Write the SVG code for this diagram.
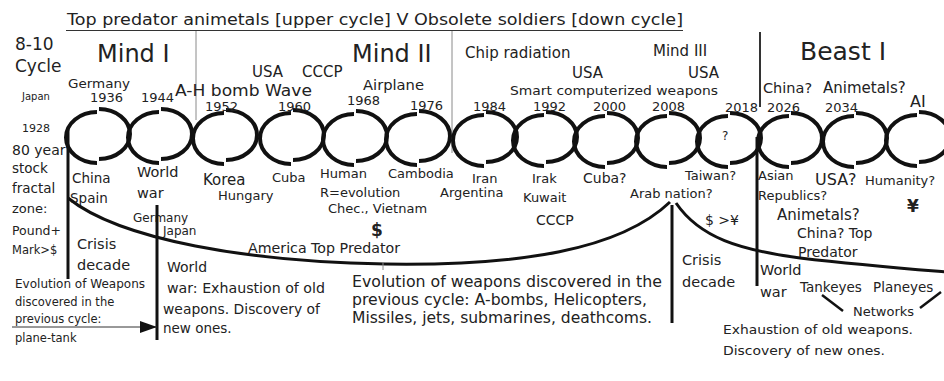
<svg xmlns="http://www.w3.org/2000/svg" width="944" height="381" viewBox="0 0 944 381">
<style>
text{font-family:"DejaVu Sans","Liberation Sans",sans-serif;fill:#222}
.big{font-size:24px}
.m{font-size:15px}
.s{font-size:13px}
.xs{font-size:11px}
.yr{font-size:13px}
.conn{fill:none;stroke:#111;stroke-width:3}
.thin{fill:none;stroke:#8a8a8a;stroke-width:1}
.tick{fill:none;stroke:#111;stroke-width:2.5}
</style>
<defs>
<g id="cyc">
<path d="M-1,-24 A31,25.5 0 0 0 -1,27" fill="none" stroke="#111" stroke-width="4"/>
<path d="M1,-27 A31,25 0 0 1 1,23" fill="none" stroke="#111" stroke-width="4"/>
</g>
<marker id="ah" markerUnits="userSpaceOnUse" markerWidth="17" markerHeight="12" refX="17" refY="6" orient="auto">
<path d="M0,0 L17,6 L0,12 z" fill="#111"/>
</marker>
</defs>
<rect width="944" height="381" fill="#fff"/>

<g id="title">
<text x="67" y="25" font-size="16" textLength="616" lengthAdjust="spacingAndGlyphs">Top predator animetals [upper cycle] V Obsolete soldiers [down cycle]</text>
<line x1="66" y1="30.5" x2="683" y2="30.5" stroke="#333" stroke-width="1.2"/>
</g>

<g id="dividers">
<line class="thin" x1="196" y1="31" x2="196" y2="120"/>
<line class="thin" x1="452" y1="31" x2="452" y2="153"/>
<line x1="760" y1="32" x2="760" y2="107" stroke="#333" stroke-width="2"/>
</g>

<g id="headers">
<text x="15" y="50" font-size="17">8-10</text>
<text x="15" y="72" font-size="17">Cycle</text>
<text class="big" x="97" y="62">Mind I</text>
<text class="big" x="352" y="62">Mind II</text>
<text x="800" y="60" font-size="25">Beast I</text>
<text class="m" x="465" y="58">Chip radiation</text>
<text class="m" x="653" y="56">Mind III</text>
<text class="m" x="688" y="78">USA</text>
<text class="m" x="572" y="78">USA</text>
<text x="510" y="95" font-size="13" textLength="208" lengthAdjust="spacingAndGlyphs">Smart computerized weapons</text>
<text x="763" y="93" font-size="14.5">China?</text>
<text class="m" x="823" y="93">Animetals?</text>
<text x="22" y="100" font-size="10">Japan</text>
<text x="68" y="88" font-size="12.5" textLength="62" lengthAdjust="spacingAndGlyphs">Germany</text>
<text x="175" y="96" font-size="15" textLength="137" lengthAdjust="spacingAndGlyphs">A-H bomb Wave</text>
<text class="m" x="252" y="77">USA</text>
<text class="m" x="302" y="77">CCCP</text>
<text x="363" y="90" font-size="14" textLength="61" lengthAdjust="spacingAndGlyphs">Airplane</text>
</g>

<g id="left-notes">
<text x="22" y="132" font-size="11">1928</text>
<text x="12" y="155" font-size="14">80 year</text>
<text x="12" y="173" font-size="13.5">stock</text>
<text x="12" y="193" font-size="13.5">fractal</text>
<text x="12" y="213" font-size="13">zone:</text>
<text x="12" y="235" font-size="12.5">Pound+</text>
<text x="12" y="254" font-size="11.5">Mark&gt;$</text>
</g>

<g id="c1936"><use href="#cyc" x="98" y="136"/><text class="yr" x="90" y="102">1936</text>
<text x="72" y="183" font-size="13.5">China</text><text x="70" y="203" font-size="13.5">Spain</text></g>
<g id="c1944"><use href="#cyc" x="160" y="136"/><text class="yr" x="141" y="102">1944</text>
<text x="137" y="177" font-size="14.5">World</text><text x="137" y="198" font-size="14.5">war</text>
<text x="133" y="222" font-size="12">Germany</text><text x="163" y="235" font-size="12">Japan</text></g>
<g id="c1952"><use href="#cyc" x="225" y="137"/><text class="yr" x="205" y="111">1952</text>
<text x="203" y="185" font-size="15">Korea</text><text x="218" y="200" font-size="13">Hungary</text></g>
<g id="c1960"><use href="#cyc" x="292" y="137"/><text class="yr" x="278" y="111">1960</text>
<text x="272" y="182" font-size="13">Cuba</text></g>
<g id="c1968"><use href="#cyc" x="355" y="138"/><text class="yr" x="347" y="105">1968</text>
<text x="320" y="178" font-size="13">Human</text><text x="320" y="197" font-size="13">R=evolution</text>
<text x="328" y="213" font-size="13">Chec., Vietnam</text><text x="371" y="236" font-size="17" font-weight="bold">$</text></g>
<g id="c1976"><use href="#cyc" x="418" y="138"/><text class="yr" x="410" y="110">1976</text>
<text x="388" y="178" font-size="13">Cambodia</text></g>
<g id="c1984"><use href="#cyc" x="485" y="139"/><text class="yr" x="473" y="111">1984</text>
<text x="472" y="183" font-size="13">Iran</text><text x="440" y="197" font-size="13">Argentina</text></g>
<g id="c1992"><use href="#cyc" x="545" y="139"/><text class="yr" x="533" y="111">1992</text>
<text x="532" y="183" font-size="13">Irak</text><text x="523" y="202" font-size="13">Kuwait</text>
<text x="536" y="225" font-size="14">CCCP</text></g>
<g id="c2000"><use href="#cyc" x="606" y="140"/><text class="yr" x="593" y="111">2000</text>
<text x="583" y="183" font-size="14">Cuba?</text></g>
<g id="c2008"><use href="#cyc" x="668" y="140"/><text class="yr" x="652" y="111">2008</text>
<text x="630" y="198" font-size="13">Arab nation?</text></g>
<g id="c2018"><use href="#cyc" x="729" y="140"/><text class="yr" x="725" y="112">2018</text>
<text x="722" y="140" font-size="12">?</text>
<text x="685" y="180" font-size="13">Taiwan?</text><text x="705" y="225" font-size="14">$ &gt;¥</text></g>
<g id="c2026"><use href="#cyc" x="790" y="140"/><text class="yr" x="767" y="112">2026</text>
<text x="758" y="180" font-size="13">Asian</text><text x="758" y="200" font-size="13">Republics?</text></g>
<g id="c2034"><use href="#cyc" x="855" y="140"/><text class="yr" x="825" y="112">2034</text>
<text x="815" y="185" font-size="16">USA?</text></g>
<g id="cAI"><use href="#cyc" x="918" y="139"/><text x="910" y="107" font-size="16">AI</text>
<text x="865" y="185" font-size="13">Humanity?</text><text x="907" y="212" font-size="17" font-weight="bold">¥</text></g>

<g id="connectors">
<path class="conn" d="M68,198 C120,240 250,262 385,264 C520,266 620,250 670,202"/>
<path class="conn" d="M676,203 C700,238 740,250 800,258 C860,265 910,269 946,272"/>
<line class="conn" x1="68" y1="128" x2="68" y2="279"/>
<line class="conn" x1="157" y1="205" x2="157" y2="340"/>
<line class="conn" x1="672" y1="205" x2="672" y2="323"/>
<line class="conn" x1="757" y1="137" x2="757" y2="286"/>
<line class="thin" x1="383" y1="262" x2="383" y2="270"/>
<line x1="12" y1="327" x2="157" y2="327" stroke="#333" stroke-width="1" marker-end="url(#ah)"/>
<line class="tick" x1="822" y1="295" x2="843" y2="311"/>
<line class="tick" x1="941" y1="292" x2="920" y2="308"/>
</g>

<g id="lower-notes">
<text x="248" y="253" font-size="14" textLength="152" lengthAdjust="spacingAndGlyphs">America Top Predator</text>
<text class="m" x="777" y="220">Animetals?</text>
<text x="797" y="238" font-size="14">China? Top</text>
<text x="798" y="257" font-size="14">Predator</text>
<text x="77" y="249" font-size="14.5">Crisis</text>
<text x="77" y="270" font-size="14.5">decade</text>
<text x="167" y="272" font-size="14">World</text>
<text x="167" y="293" font-size="13.5" textLength="158" lengthAdjust="spacingAndGlyphs">war: Exhaustion of old</text>
<text x="163" y="314" font-size="13.5" textLength="157" lengthAdjust="spacingAndGlyphs">weapons. Discovery of</text>
<text x="163" y="333" font-size="13.5">new ones.</text>
<text x="15" y="288" font-size="11.5" textLength="130" lengthAdjust="spacingAndGlyphs">Evolution of Weapons</text>
<text x="15" y="306" font-size="11.5">discovered in the</text>
<text x="15" y="323" font-size="11.5">previous cycle:</text>
<text x="15" y="342" font-size="11.5">plane-tank</text>
<text x="352" y="287" font-size="15" textLength="310" lengthAdjust="spacingAndGlyphs">Evolution of weapons discovered in the</text>
<text x="352" y="305" font-size="15" textLength="295" lengthAdjust="spacingAndGlyphs">previous cycle: A-bombs, Helicopters,</text>
<text x="352" y="323" font-size="15" textLength="300" lengthAdjust="spacingAndGlyphs">Missiles, jets, submarines, deathcoms.</text>
<text x="682" y="265" font-size="14.5">Crisis</text>
<text x="682" y="287" font-size="14.5">decade</text>
<text x="760" y="275" font-size="14.5">World</text>
<text x="760" y="297" font-size="14.5">war</text>
<text x="800" y="292" font-size="13.5">Tankeyes</text>
<text x="873" y="292" font-size="13.5">Planeyes</text>
<text x="853" y="316" font-size="13">Networks</text>
<text x="723" y="334" font-size="13" textLength="190" lengthAdjust="spacingAndGlyphs">Exhaustion of old weapons.</text>
<text x="723" y="355" font-size="13" textLength="162" lengthAdjust="spacingAndGlyphs">Discovery of new ones.</text>
</g>
</svg>
